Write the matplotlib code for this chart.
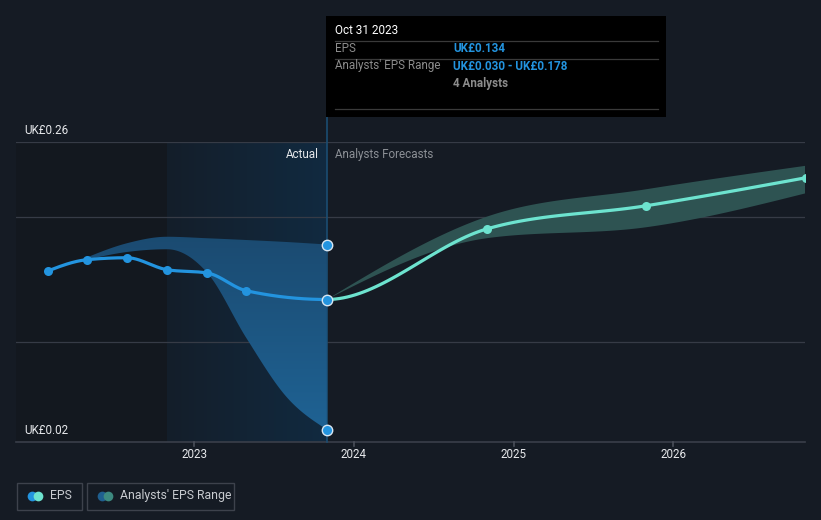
import numpy as np
import pandas as pd
import matplotlib
matplotlib.use("Agg")
import matplotlib.pyplot as plt
from matplotlib.patches import Rectangle
from matplotlib.lines import Line2D
from matplotlib.colors import LinearSegmentedColormap

plt.rcParams['font.family'] = ['Roboto', 'DejaVu Sans']

# ---------------- data ----------------
eps_dates = ["2022-01-31", "2022-04-30", "2022-07-31", "2022-10-31",
             "2023-01-31", "2023-04-30", "2023-10-31"]
eps_values = [0.1568, 0.1658, 0.1674, 0.1578, 0.1552, 0.1410, 0.134]

fc_dates = ["2024-10-31", "2025-10-31", "2026-10-31"]
fc_values = [0.1904, 0.2090, 0.2314]

band_dates = ["2022-04-30", "2022-07-31", "2022-10-31", "2023-01-31",
              "2023-04-30", "2023-07-31", "2023-10-31"]
band_high = [0.1676, 0.1790, 0.1842, 0.1830, 0.1816, 0.1800, 0.178]
band_low = [0.1658, 0.1720, 0.1742, 0.1552, 0.1032, 0.0560, 0.030]

fc_band_dates = ["2023-10-31", "2024-10-31", "2025-10-31", "2026-10-31"]
fc_band_high = [0.134, 0.2002, 0.2222, 0.2410]
fc_band_low = [0.134, 0.1830, 0.1918, 0.2190]

ytick_labels = ["UK£0.26", "UK£0.02"]
ytick_values = [0.26, 0.02]
grid_values = [0.26, 0.20, 0.10]
xtick_labels = ["2023", "2024", "2025", "2026"]

# ---------------- helpers ----------------
def dec_year(s):
    d = pd.Timestamp(s)
    n = 366 if d.is_leap_year else 365
    return d.year + (d.dayofyear - 1) / n

def monotone(xs, ys, n=40):
    xs = np.asarray(xs, float); ys = np.asarray(ys, float)
    m = len(xs)
    if m < 3:
        return xs, ys
    h = np.diff(xs); s = np.diff(ys) / h
    t = np.zeros(m)
    for i in range(1, m - 1):
        p = (s[i-1] * h[i] + s[i] * h[i-1]) / (h[i-1] + h[i])
        t[i] = (np.sign(s[i-1]) + np.sign(s[i])) * min(abs(s[i-1]), abs(s[i]), 0.5 * abs(p))
    t[0] = (3 * s[0] - t[1]) / 2
    t[-1] = (3 * s[-1] - t[-2]) / 2
    X, Y = [], []
    u = np.linspace(0, 1, n)
    for i in range(m - 1):
        dx = h[i]
        P0 = np.array([xs[i], ys[i]])
        P1 = np.array([xs[i] + dx/3, ys[i] + dx/3 * t[i]])
        P2 = np.array([xs[i+1] - dx/3, ys[i+1] - dx/3 * t[i+1]])
        P3 = np.array([xs[i+1], ys[i+1]])
        B = ((1-u)**3)[:, None]*P0 + (3*(1-u)**2*u)[:, None]*P1 + (3*(1-u)*u**2)[:, None]*P2 + (u**3)[:, None]*P3
        if i > 0:
            B = B[1:]
        X.append(B[:, 0]); Y.append(B[:, 1])
    return np.concatenate(X), np.concatenate(Y)

ex = [dec_year(d) for d in eps_dates]
fx = [dec_year(d) for d in fc_dates]
bx = [dec_year(d) for d in band_dates]
fbx = [dec_year(d) for d in fc_band_dates]

# ---------------- figure ----------------
W, H = 821, 520
BG = "#151b24"
fig = plt.figure(figsize=(W/100, H/100), dpi=100, facecolor=BG)

def px_ax(l, t, r, b):
    return [l/W, 1 - b/H, (r-l)/W, (b-t)/H]

ax = fig.add_axes(px_ax(16, 142, 805, 442))
ax.set_facecolor(BG)
x0, x1 = 2021.8836, 2026.8247
for sp in ax.spines.values():
    sp.set_visible(False)
ax.set_yticks([])
ax.set_xticks([])

now_x = dec_year("2023-10-31")
past_x = dec_year("2022-10-31")

# shaded background regions
ax.add_patch(Rectangle((x0, 0.02), past_x - x0, 0.24, facecolor="#13181f", edgecolor='none', zorder=0.5))
grad = np.linspace(0, 1, 512).reshape(1, -1)
cm_blue = LinearSegmentedColormap.from_list("b", ["#141e2a", "#112a40"])
ax.imshow(grad, extent=[past_x, now_x, 0.02, 0.26], aspect='auto', cmap=cm_blue, zorder=0.6,
          interpolation='bilinear')

# grid lines
for g in grid_values:
    ax.axhline(g, color="#363b46", lw=0.9, zorder=1)
ax.axhline(0.02, color="#3a3f4a", lw=1.2, zorder=1, clip_on=False)

# actual band with vertical gradient
bxh, byh = monotone(bx, band_high)
bxl, byl = monotone(bx, band_low)
poly = ax.fill(np.concatenate([bxh, bxl[::-1]]), np.concatenate([byh, byl[::-1]]),
               facecolor='none', edgecolor='none', zorder=2)[0]
vgrad = np.linspace(0, 1, 512).reshape(-1, 1)
cm_band = LinearSegmentedColormap.from_list("bb", ["#1f6496", "#193f60"])
im = ax.imshow(vgrad, extent=[bx[0], now_x, 0.26, 0.02], aspect='auto', cmap=cm_band, zorder=2,
               interpolation='bilinear')
im.set_clip_path(poly)

# forecast band
fbxh, fbyh = monotone(fbx, fc_band_high)
fbxl, fbyl = monotone(fbx, fc_band_low)
ax.fill(np.concatenate([fbxh, fbxl[::-1]]), np.concatenate([fbyh, fbyl[::-1]]),
        facecolor="#2e5352", edgecolor='none', zorder=2)

# EPS line (single monotone curve through actual + forecast)
allx = ex + fx
ally = eps_values + fc_values
cx, cy = monotone(allx, ally)
mask_a = cx <= now_x + 1e-9
mask_f = cx >= now_x - 1e-9
ax.plot(cx[mask_a], cy[mask_a], color="#2394df", lw=2.3, zorder=4, solid_capstyle='round')
ax.plot(cx[mask_f], cy[mask_f], color="#6de3cf", lw=2.3, zorder=4, solid_capstyle='round')
ax.plot(ex[:-1], eps_values[:-1], 'o', color="#2394df", ms=6.5, zorder=5, mec='none')
ax.plot(fx, fc_values, 'o', color="#6de3cf", ms=6.5, zorder=5, mec='none')
# highlighted points at Oct 31 2023
ax.plot([now_x, now_x, now_x], [eps_values[-1], band_high[-1], band_low[-1]], 'o',
        color="#2394df", ms=7.5, mec="#d8e6f2", mew=1.0, zorder=6, clip_on=False)

# vertical line at now
ax.plot([now_x, now_x], [0.02, 0.28], color="#1b4d72", lw=1.2, zorder=1.5, clip_on=False)

ax.set_xlim(x0, x1)
ax.set_ylim(0.02, 0.26)

# x ticks
for lbl in xtick_labels:
    xv = float(lbl)
    ax.plot([xv, xv], [0.02, 0.0168], color="#4a4f5a", lw=1.2, clip_on=False, zorder=1)
    fig.text(ax.transData.transform((xv, 0.02))[0] / W, 1 - 455/H, lbl, ha='center', va='center',
             color="#e6e8eb", fontsize=8.4)

# y labels
for lbl, v in zip(ytick_labels, ytick_values):
    fig.text(24/W, 1 - ((442 - (v - 0.02) * 1250) - 12)/H, lbl, ha='left', va='center',
             color="#e6e8eb", fontsize=8.4)

# Actual / Analysts Forecasts labels
fig.text(319/W, 1 - 154/H, "Actual", ha='right', va='center', color="#e6e8eb", fontsize=8.4)
fig.text(335/W, 1 - 154/H, "Analysts Forecasts", ha='left', va='center', color="#8c9096", fontsize=8.4)

# tooltip
fig.patches.append(Rectangle((326/W, 1 - 117/H), 340/W, 101/H, transform=fig.transFigure,
                             facecolor="#000000", edgecolor='none', zorder=10))
for yy in [41.5, 58.5, 109]:
    fig.add_artist(Line2D([335/W, 658/W], [1 - yy/H, 1 - yy/H], color="#3a3a3a", lw=0.9, zorder=11))
fig.text(335/W, 1 - 31/H, "Oct 31 2023", color="#ffffff", fontsize=8.5, va='center', zorder=12)
fig.text(335/W, 1 - 49/H, "EPS", color="#8c8c8c", fontsize=8.4, va='center', zorder=12)
fig.text(453/W, 1 - 49/H, "UK£0.134", color="#2394df", fontsize=8.4, va='center', fontweight='bold', zorder=12)
fig.text(335/W, 1 - 66/H, "Analysts' EPS Range", color="#8c8c8c", fontsize=8.4, va='center', zorder=12)
fig.text(453/W, 1 - 66/H, "UK£0.030 - UK£0.178", color="#2394df", fontsize=8.4, va='center', fontweight='bold', zorder=12)
fig.text(453/W, 1 - 83/H, "4 Analysts", color="#8c8c8c", fontsize=8.4, va='center', fontweight='bold', zorder=12)

# legend
def box(l, t, r, b):
    fig.patches.append(Rectangle((l/W, 1 - b/H), (r-l)/W, (b-t)/H, transform=fig.transFigure,
                                 facecolor='none', edgecolor="#3d424c", lw=1.0))
box(16.5, 482.5, 81.5, 509.5)
box(86.5, 482.5, 233.5, 509.5)
def dot(x, y, c):
    fig.add_artist(Line2D([x/W], [1 - y/H], marker='o', ms=7, color=c, mec='none', ls='none'))
dot(32, 495.5, "#2394df"); dot(38, 495.5, "#6de3cf")
dot(102, 495.5, "#1f5f8f"); dot(108, 495.5, "#3d8a80")
fig.text(50/W, 1 - 495.5/H, "EPS", color="#c8cbd0", fontsize=8.8, va='center')
fig.text(120/W, 1 - 495.5/H, "Analysts' EPS Range", color="#c8cbd0", fontsize=8.8, va='center')

fig.savefig("out.png", dpi=100, facecolor=BG)
